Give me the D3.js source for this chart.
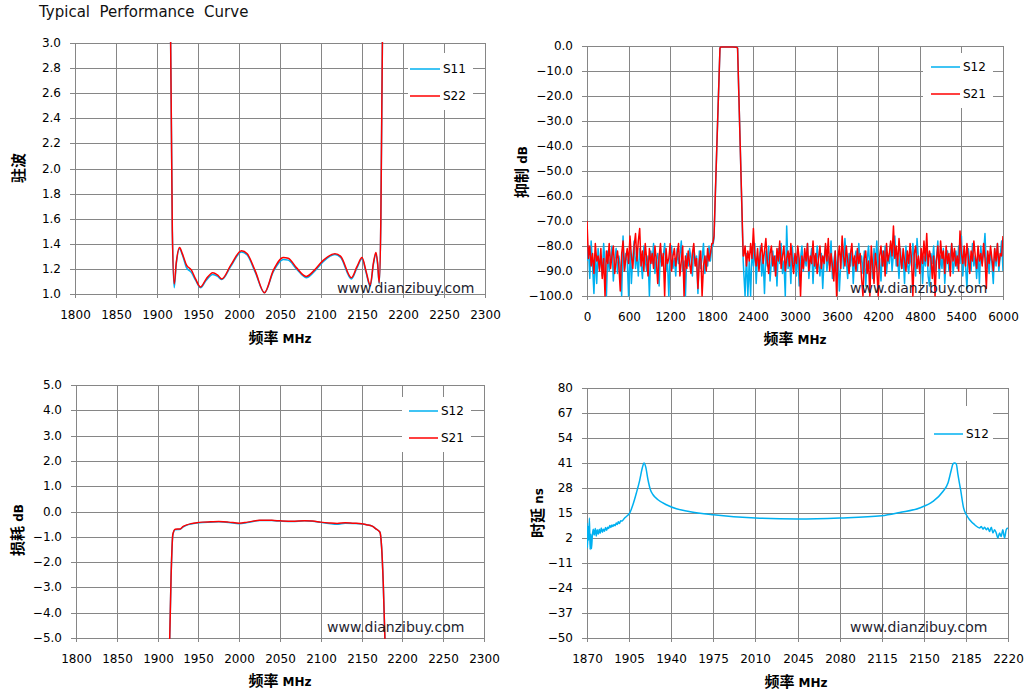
<!DOCTYPE html>
<html>
<head>
<meta charset="utf-8">
<script src="https://cdn.jsdelivr.net/npm/d3@7/dist/d3.min.js"></script>
<style>
	body { margin: 0; background: #fff; }
	svg text { font-family: 'DejaVu Sans', sans-serif; }
</style>
</head>
<body>
<script>
// ---- chart 1: VSWR ----
let vswrFreq = [1916.5, 1918.7, 1921, 1923.5, 1927.5, 1931, 1936, 1942, 1947, 1953, 1960, 1968, 1974, 1979, 1990, 2003, 2010, 2020, 2031, 2042, 2054, 2060, 2070, 2082, 2092, 2103, 2117, 2124, 2137, 2144, 2150, 2155, 2160, 2164, 2167, 2169, 2171, 2173, 2175]
let vswrS11 = [3.1, 1.5, 1.05, 1.24, 1.36, 1.31, 1.21, 1.17, 1.11, 1.05, 1.11, 1.155, 1.14, 1.115, 1.22, 1.335, 1.31, 1.17, 1.01, 1.18, 1.275, 1.27, 1.2, 1.13, 1.18, 1.26, 1.315, 1.29, 1.12, 1.21, 1.28, 1.17, 1.06, 1.24, 1.32, 1.24, 1.08, 1.6, 3.1]
let vswrS22 = [3.1, 1.5, 1.08, 1.25, 1.37, 1.32, 1.23, 1.19, 1.12, 1.056, 1.12, 1.17, 1.15, 1.12, 1.23, 1.345, 1.32, 1.18, 1.01, 1.19, 1.29, 1.285, 1.21, 1.14, 1.19, 1.27, 1.32, 1.30, 1.13, 1.22, 1.29, 1.18, 1.07, 1.25, 1.33, 1.25, 1.09, 1.6, 3.1]
let vswrXTicks = [1800, 1850, 1900, 1950, 2000, 2050, 2100, 2150, 2200, 2250, 2300]
let vswrYTicks = [1.0, 1.2, 1.4, 1.6, 1.8, 2.0, 2.2, 2.4, 2.6, 2.8, 3.0]

// ---- chart 2: rejection, noise floor read every ~20 MHz ----
let rejLowS12 = [-86, -80, -93, -78, -88, -99, -83, -95, -81, -89, -84, -92, -79, -87, -100, -82, -90, -85, -80, -94, -86, -81, -91, -84, -88, -100, -76, -90, -83, -86, -100, -80, -95, -85, -78, -89, -83, -92, -81, -87, -93, -80, -86, -90, -84, -100, -82, -87, -79, -91, -85, -83, -96, -81, -88, -84, -79, -90, -86, -100, -83, -80, -89, -85, -92, -81, -87, -84, -78, -90, -86, -100, -83, -88, -81, -85, -92, -80, -87, -84, -99, -82, -89, -85, -79, -91, -84, -88, -80, -86, -80]
let rejLowS21 = [-70, -85, -80, -88, -83, -91, -79, -86, -84, -90, -81, -93, -85, -100, -82, -87, -79, -89, -84, -80, -91, -86, -82, -88, -98, -83, -78, -90, -85, -81, -87, -76, -84, -89, -80, -75, -86, -78, -73, -88, -82, -90, -79, -85, -92, -81, -87, -83, -89, -80, -86, -95, -84, -79, -88, -83, -100, -81, -87, -85, -79, -90, -84, -81, -88, -83, -79, -92, -86, -80, -100, -84, -89, -82, -87, -91, -83, -79, -88, -85, -97, -86, -82, -100, -88, -84, -90, -81, -86, -83, -79]
let rejPassFreq = [1815, 1832, 1875, 1918, 1930, 2000, 2100, 2160, 2172, 2210, 2253]
let rejPassS12 = [-80, -77, -38, -0.8, -0.4, -0.4, -0.4, -0.5, -0.9, -40, -86]
let rejPassS21 = [-79, -76, -38, -0.8, -0.4, -0.4, -0.4, -0.5, -0.9, -40, -84]
let rejHighS12 = [-90, -100, -83, -100, -86, -100, -81, -88, -79, -95, -84, -89, -80, -92, -85, -99, -82, -88, -80, -94, -86, -82, -90, -84, -96, -81, -87, -79, -91, -86, -100, -72, -89, -83, -95, -80, -87, -84, -92, -81, -96, -85, -80, -90, -84, -88, -79, -93, -86, -81, -95, -84, -89, -80, -87, -92, -83, -97, -85, -80, -90, -84, -88, -78, -93, -86, -82, -91, -84, -98, -87, -80, -89, -77, -86, -93, -83, -88, -80, -95, -85, -82, -90, -79, -87, -84, -91, -82, -96, -86, -80, -89, -84, -93, -81, -87, -78, -90, -85, -94, -82, -88, -80, -91, -84, -87, -79, -90, -83, -76, -88, -85, -93, -81, -89, -84, -95, -80, -87, -91, -83, -88, -79, -86, -92, -77, -85, -90, -82, -95, -84, -88, -80, -92, -96, -83, -87, -80, -90, -85, -78, -93, -84, -89, -81, -95, -86, -82, -90, -84, -79, -91, -86, -82, -89, -80, -87, -76, -92, -84, -88, -97, -81, -86, -90, -79, -88, -84, -93, -82, -95, -80, -87, -83, -75, -89, -84, -91, -82, -87, -95, -81, -88, -79, -90, -84, -78, -90]
let rejHighS21 = [-84, -80, -88, -82, -86, -79, -85, -73, -84, -88, -81, -90, -83, -79, -87, -82, -77, -86, -91, -83, -80, -88, -84, -92, -81, -86, -78, -89, -84, -80, -90, -85, -82, -88, -79, -86, -91, -83, -87, -80, -85, -100, -84, -89, -81, -86, -79, -90, -84, -87, -78, -88, -83, -91, -85, -80, -89, -84, -87, -79, -86, -77, -90, -83, -88, -94, -82, -100, -85, -80, -89, -76, -84, -88, -80, -86, -91, -83, -79, -88, -84, -90, -81, -87, -83, -93, -100, -85, -82, -91, -86, -100, -80, -88, -95, -83, -89, -100, -84, -80, -88, -82, -92, -79, -86, -83, -78, -84, -72, -85, -80, -88, -77, -84, -89, -81, -86, -90, -82, -87, -79, -85, -100, -83, -80, -89, -84, -91, -81, -87, -78, -86, -75, -88, -82, -85, -93, -84, -100, -86, -80, -89, -78, -85, -82, -91, -80, -87, -83, -92, -79, -86, -81, -88, -84, -90, -74, -83, -87, -80, -88, -79, -85, -91, -82, -86, -78, -84, -89, -80, -86, -83, -88, -79, -85, -97, -82, -87, -80, -85, -90, -81, -86, -79, -88, -83, -84, -76]
let rejXTicks = [0, 600, 1200, 1800, 2400, 3000, 3600, 4200, 4800, 5400, 6000]
let rejYTicks = [-100, -90, -80, -70, -60, -50, -40, -30, -20, -10, 0]

// ---- chart 3: insertion loss ----
let ilFreq = [1914.5, 1916.5, 1918.7, 1921.5, 1927.6, 1931, 1935.8, 1941, 1948, 1955, 1965, 1975, 1987, 2000, 2010, 2025, 2040, 2050, 2065, 2080, 2090, 2100, 2110, 2120, 2130, 2140, 2150, 2156, 2163, 2168, 2172.5, 2174.5, 2176.5, 2179]
let ilS12 = [-5.5, -2.6, -0.92, -0.72, -0.7, -0.62, -0.54, -0.49, -0.45, -0.43, -0.42, -0.41, -0.43, -0.48, -0.44, -0.36, -0.36, -0.38, -0.40, -0.37, -0.39, -0.43, -0.47, -0.5, -0.46, -0.47, -0.49, -0.52, -0.58, -0.7, -0.82, -1.4, -2.8, -5.5]
let ilS21 = [-5.5, -2.6, -0.9, -0.7, -0.69, -0.6, -0.53, -0.48, -0.44, -0.42, -0.41, -0.40, -0.42, -0.46, -0.42, -0.35, -0.35, -0.37, -0.39, -0.37, -0.38, -0.42, -0.45, -0.47, -0.44, -0.46, -0.48, -0.52, -0.58, -0.7, -0.82, -1.4, -2.8, -5.5]
let ilXTicks = [1800, 1850, 1900, 1950, 2000, 2050, 2100, 2150, 2200, 2250, 2300]
let ilYTicks = [-5, -4, -3, -2, -1, 0, 1, 2, 3, 4, 5]

// ---- chart 4: group delay ----
let gdFreq = [1869.9, 1870.4, 1870.9, 1871.4, 1872, 1872.6, 1873.2, 1873.7, 1874.4, 1875.2, 1876, 1876.9, 1877.7, 1878.5, 1879.4, 1880.2, 1881, 1881.9, 1882.8, 1883.6, 1884.5, 1885.4, 1886.3, 1887.2, 1888, 1889, 1889.8, 1890.7, 1891.6, 1892.5, 1893.4, 1894.3, 1895.2, 1896, 1897, 1898, 1899, 1900.6, 1902, 1903.5, 1905.5, 1908.3, 1911.1, 1913.8, 1916, 1917.4, 1918.8, 1920.7, 1922.7, 1924.9, 1929, 1936, 1944.3, 1954.8, 1975, 2010, 2045, 2080, 2115, 2130, 2146.5, 2157.6, 2165.9, 2170.1, 2172.9, 2174.2, 2175.6, 2177, 2178.4, 2180.6, 2183.1, 2185.4, 2188.1, 2192.3, 2196.4, 2197.8, 2199.2, 2200.6, 2202, 2203.3, 2204.7, 2206.1, 2207.5, 2208.8, 2210.2, 2211.6, 2213, 2214.3, 2215.7, 2217.1, 2218.5, 2219.9]
let gdS12 = [9.8, -3, 8, 1, 12.4, -4, 4, -3.6, 3, 6.5, 3.5, 7, 3, 6.3, 4, 6.5, 4.5, 7.2, 5, 6.5, 5.5, 7.5, 6, 7.6, 7, 8.5, 7.5, 8.8, 8, 9, 8.4, 9.8, 9, 10.5, 9.5, 11, 10.8, 11.9, 12.8, 13.6, 15, 19.5, 25.5, 32, 38.5, 41, 39, 32.3, 27.1, 24.5, 21.9, 19.3, 17.2, 15.8, 14.1, 12.4, 11.9, 12.4, 13.6, 15.3, 17.6, 21, 26.2, 30.6, 37.5, 40.5, 41, 40.5, 34.9, 27.1, 17.6, 14.1, 11.5, 8.9, 7.2, 8.0, 6.6, 7.6, 6.3, 7.2, 5.4, 7.6, 4.6, 6.3, 4.6, 2, 4.6, 2.8, 6.3, 2, 6.3, 7.2]
let gdXTicks = [1870, 1905, 1940, 1975, 2010, 2045, 2080, 2115, 2150, 2185, 2220]
let gdYTicks = [-50, -37, -24, -11, 2, 15, 28, 41, 54, 67, 80]

const BLUE = '#00B0F0'
const RED = '#FF0000'
const GRID = '#868686'
const CJK = "'Noto Sans CJK SC', sans-serif"

let svg = d3.select('body').append('svg').attr('width', 1028).attr('height', 695)
svg.append('rect').attr('width', 1028).attr('height', 695).attr('fill', '#fff')

let lineChart = function(pos, name, xDom, yDom) {
	let {x0, x1, y0, y1} = pos

	this.x0 = x0
	this.x1 = x1
	this.y0 = y0
	this.y1 = y1
	this.name = name

	this.x = d3.scaleLinear().domain(xDom).range([x0, x1])
	this.y = d3.scaleLinear().domain(yDom).range([y1, y0])

	this.g = svg.append('g').attr('id', 'chart-' + name)
	this.g.append('clipPath').attr('id', 'clip-' + name).append('rect')
		.attr('x', x0).attr('y', y0 - 1)
		.attr('width', x1 - x0).attr('height', y1 - y0 + 2)
}
lineChart.prototype.axes = function(xTicks, yTicks, yFmt) {
	// rounded copies keep the grid on whole pixels
	let xr = this.x.copy().interpolate(d3.interpolateRound)
	let yr = this.y.copy().interpolate(d3.interpolateRound)

	let xAxis = d3.axisBottom(xr).tickValues(xTicks).tickFormat(d3.format('d'))
		.tickSizeInner(-(this.y1 - this.y0 + 4)).tickSizeOuter(0).tickPadding(12)
	let yAxis = d3.axisLeft(yr).tickValues(yTicks).tickFormat(yFmt)
		.tickSizeInner(-(this.x1 - this.x0 + 5)).tickSizeOuter(0).tickPadding(9)

	this.g.append('g').attr('transform', `translate(0,${this.y1 + 4})`).call(xAxis)
	this.g.append('g').attr('transform', `translate(${this.x0 - 5},0)`).call(yAxis)

	this.g.selectAll('.domain').remove()
	this.g.selectAll('.tick line').attr('stroke', GRID).attr('stroke-width', 1)
	this.g.selectAll('.tick text').attr('fill', '#000')
		.attr('font-family', "'DejaVu Sans', sans-serif").attr('font-size', 12)
}
lineChart.prototype.addLine = function(xs, ys, color, curve) {
	let line = d3.line()
		.x((d, i) => this.x(xs[i]))
		.y(d => this.y(d))
		.curve(curve || d3.curveLinear)
	this.g.append('path').datum(ys)
		.attr('clip-path', `url(#clip-${this.name})`)
		.attr('fill', 'none').attr('stroke', color)
		.attr('stroke-width', 1.5).attr('stroke-linejoin', 'round')
		.attr('d', line)
}
lineChart.prototype.legend = function(box, items) {
	this.g.append('rect')
		.attr('x', box.x).attr('y', box.y).attr('width', box.w).attr('height', box.h)
		.attr('fill', '#fff')
	for (let it of items) {
		this.g.append('line')
			.attr('x1', box.lx0).attr('x2', box.lx1)
			.attr('y1', it.y).attr('y2', it.y)
			.attr('stroke', it.color).attr('stroke-width', 1.5)
		this.g.append('text')
			.attr('x', box.lx1 + 3).attr('y', it.y).attr('dy', '0.36em')
			.attr('font-size', 12).attr('fill', '#000')
			.text(it.name)
	}
}
lineChart.prototype.titles = function(xt, yt, yName, unit, mark) {
	let tx = this.g.append('text')
		.attr('x', xt.x).attr('y', xt.y).attr('dy', '0.36em')
		.attr('text-anchor', 'middle').attr('font-weight', 'bold')
	tx.append('tspan').attr('font-family', CJK).attr('font-size', 15).text('频率')
	tx.append('tspan').attr('font-size', 12).text(' MHz')

	let ty = this.g.append('text')
		.attr('transform', `translate(${yt.x},${yt.y}) rotate(-90)`)
		.attr('dy', '0.36em')
		.attr('text-anchor', 'middle').attr('font-weight', 'bold')
	ty.append('tspan').attr('font-family', CJK).attr('font-size', 15).text(yName)
	if (unit) {
		ty.append('tspan').attr('font-size', 12).text(' ' + unit)
	}

	this.g.append('text')
		.attr('x', mark.x).attr('y', mark.y)
		.attr('font-size', 14).attr('fill', '#1e1e30')
		.text('www.dianzibuy.com')
}

svg.append('text')
	.attr('x', 39).attr('y', 17)
	.attr('font-family', "'Liberation Sans', Arial, sans-serif")
	.attr('font-size', 15).attr('fill', '#111')
	.style('white-space', 'pre')
	.text('Typical  Performance  Curve')

let fmt1 = d3.format('.1f')

// chart 1
let c1 = new lineChart({x0: 75, x1: 485, y0: 43, y1: 294}, 'vswr', [1800, 2300], [1.0, 3.0])
c1.axes(vswrXTicks, vswrYTicks, fmt1)
c1.addLine(vswrFreq, vswrS11, BLUE, d3.curveMonotoneX)
c1.addLine(vswrFreq, vswrS22, RED, d3.curveMonotoneX)
c1.legend({x: 408, y: 53, w: 65, h: 57, lx0: 410, lx1: 440},
	[{name: 'S11', color: BLUE, y: 69}, {name: 'S22', color: RED, y: 96}])
c1.titles({x: 280, y: 337}, {x: 18, y: 168}, '驻波', null, {x: 337, y: 293})

// chart 2
let spread = (a, lo, hi) => a.map((v, i) => lo + i * (hi - lo) / (a.length - 1))
let rejF12 = spread(rejLowS12, 0, 1800).concat(rejPassFreq, spread(rejHighS12, 2260, 6000))
let rejF21 = spread(rejLowS21, 0, 1800).concat(rejPassFreq, spread(rejHighS21, 2260, 6000))
let c2 = new lineChart({x0: 587, x1: 1003, y0: 46, y1: 296}, 'rej', [0, 6000], [-100, 0])
c2.axes(rejXTicks, rejYTicks, fmt1)
c2.addLine(rejF12, rejLowS12.concat(rejPassS12, rejHighS12), BLUE)
c2.addLine(rejF21, rejLowS21.concat(rejPassS21, rejHighS21), RED)
c2.legend({x: 923, y: 53, w: 70, h: 55, lx0: 931, lx1: 960},
	[{name: 'S12', color: BLUE, y: 67}, {name: 'S21', color: RED, y: 94}])
c2.titles({x: 795, y: 338}, {x: 521, y: 172}, '抑制', 'dB', {x: 850, y: 293})

// chart 3
let c3 = new lineChart({x0: 76, x1: 484, y0: 385, y1: 638}, 'il', [1800, 2300], [-5, 5])
c3.axes(ilXTicks, ilYTicks, fmt1)
c3.addLine(ilFreq, ilS12, BLUE, d3.curveMonotoneX)
c3.addLine(ilFreq, ilS21, RED, d3.curveMonotoneX)
c3.legend({x: 402, y: 397, w: 69, h: 55, lx0: 409, lx1: 438},
	[{name: 'S12', color: BLUE, y: 411}, {name: 'S21', color: RED, y: 438}])
c3.titles({x: 280, y: 680}, {x: 17, y: 530}, '损耗', 'dB', {x: 327, y: 632})

// chart 4
let c4 = new lineChart({x0: 587, x1: 1008, y0: 388, y1: 638}, 'gd', [1870, 2220], [-50, 80])
c4.axes(gdXTicks, gdYTicks, d3.format('d'))
c4.addLine(gdFreq, gdS12, BLUE, d3.curveMonotoneX)
c4.legend({x: 925, y: 406, w: 68, h: 55, lx0: 934, lx1: 963},
	[{name: 'S12', color: BLUE, y: 434}])
c4.titles({x: 796, y: 681}, {x: 537, y: 513}, '时延', 'ns', {x: 850, y: 632})
</script>
</body>
</html>
